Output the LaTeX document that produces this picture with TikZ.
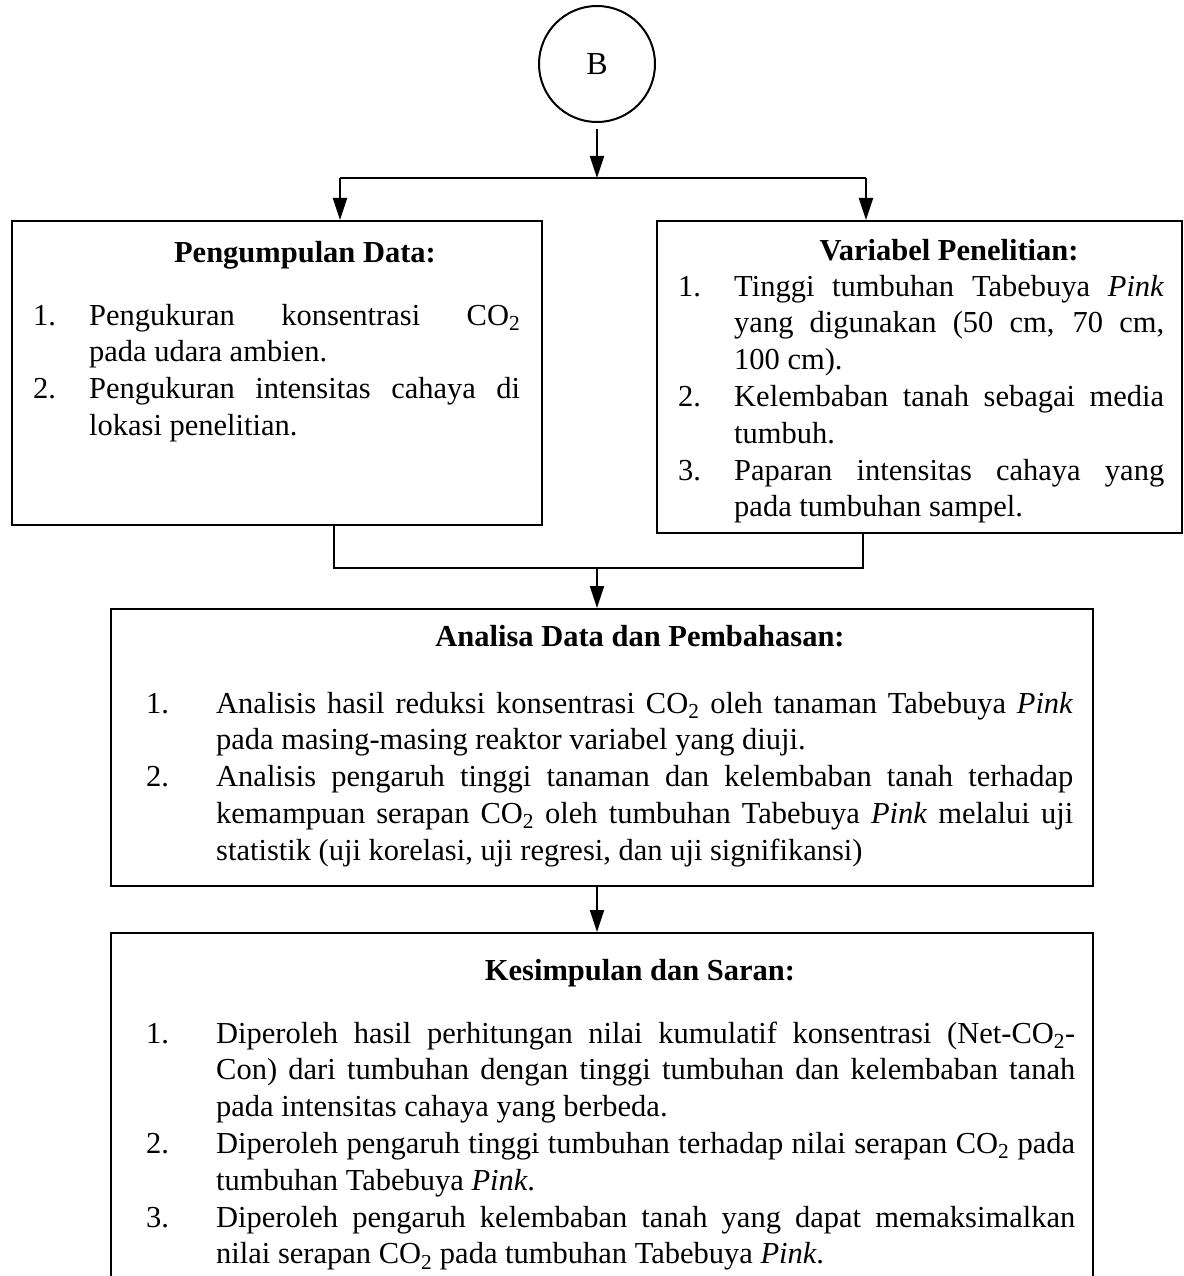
\documentclass[tikz,border=0pt]{standalone}
\usepackage{fontspec}
\setmainfont{Liberation Serif}
\usetikzlibrary{arrows.meta}
\newcommand{\firstitem}[2]{\leftskip=0pt\relax\rightskip=0pt\relax\spaceskip=0pt\relax\xspaceskip=0pt\relax\parfillskip=0pt plus 1fil\relax\tolerance=10000\relax\noindent\hangindent=#1\hangafter=1\makebox[#1][l]{#2}\ignorespaces}
\newcommand{\myitem}[2]{\par\noindent\hangindent=#1\hangafter=1\makebox[#1][l]{#2}\ignorespaces}
\begin{document}
\begin{tikzpicture}[x=1pt,y=-1pt,
  box/.style={draw, line width=2.2pt, rectangle, inner sep=0pt, anchor=north west},
  conn/.style={line width=2pt},
  arr/.style={line width=2pt, -{Triangle[length=22pt,width=14pt]}},
  ttl/.style={inner sep=0pt, anchor=base, font=\fontsize{30.5}{36.8}\selectfont\bfseries},
  lst/.style={inner sep=0pt, anchor=base west,
    font=\fontsize{30.5}{36.8}\selectfont}
]
\useasboundingbox (0,0) rectangle (1183,1276);
\clip (0,0) rectangle (1183,1276);

% start circle
\node[draw, circle, line width=2pt, minimum size=116pt, inner sep=0pt,
      font=\fontsize{32}{38}\selectfont] (B) at (597,64) {B};

% boxes
\node[box, minimum width=530pt, minimum height=304pt] (kumpul) at (11,220) {};
\node[box, minimum width=525pt, minimum height=312pt] (var) at (656,220) {};
\node[box, minimum width=982pt, minimum height=277pt] (analisa) at (110,608) {};
\node[box, minimum width=982pt, minimum height=420pt] (simpul) at (110,932) {};

% texts: Pengumpulan Data
\node[ttl] (t1) at (305,262) {Pengumpulan Data:};
\node[lst, text width=487pt] (l1) at (33,325) {\firstitem{56pt}{1.}Pengukuran konsentrasi CO\textsubscript{2}\linebreak pada udara ambien.
\myitem{56pt}{2.}Pengukuran intensitas cahaya di\linebreak lokasi penelitian.\par};

% Variabel Penelitian
\node[ttl] (t2) at (949,260) {Variabel Penelitian:};
\node[lst, text width=486pt] (l2) at (678,296) {\firstitem{56pt}{1.}Tinggi tumbuhan Tabebuya \textit{Pink}\linebreak yang digunakan (50 cm, 70 cm,\linebreak 100 cm).
\myitem{56pt}{2.}Kelembaban tanah sebagai media\linebreak tumbuh.
\myitem{56pt}{3.}Paparan intensitas cahaya yang\linebreak pada tumbuhan sampel.\par};

% Analisa
\node[ttl] (t3) at (640,646) {Analisa Data dan Pembahasan:};
\node[lst, text width=927pt] (l3) at (146,713) {\firstitem{70pt}{1.}Analisis hasil reduksi konsentrasi CO\textsubscript{2} oleh tanaman Tabebuya \textit{Pink}\linebreak pada masing-masing reaktor variabel yang diuji.
\myitem{70pt}{2.}Analisis pengaruh tinggi tanaman dan kelembaban tanah terhadap\linebreak kemampuan serapan CO\textsubscript{2} oleh tumbuhan Tabebuya \textit{Pink} melalui uji\linebreak statistik (uji korelasi, uji regresi, dan uji signifikansi)\par};

% Kesimpulan
\node[ttl] (t4) at (640,980) {Kesimpulan dan Saran:};
\node[lst, text width=929pt] (l4) at (146,1043) {\firstitem{70pt}{1.}Diperoleh hasil perhitungan nilai kumulatif konsentrasi (Net-CO\textsubscript{2}-\linebreak Con) dari tumbuhan dengan tinggi tumbuhan dan kelembaban tanah\linebreak pada intensitas cahaya yang berbeda.
\myitem{70pt}{2.}Diperoleh pengaruh tinggi tumbuhan terhadap nilai serapan CO\textsubscript{2} pada\linebreak tumbuhan Tabebuya \textit{Pink}.
\myitem{70pt}{3.}Diperoleh pengaruh kelembaban tanah yang dapat memaksimalkan\linebreak nilai serapan CO\textsubscript{2} pada tumbuhan Tabebuya \textit{Pink}.\par};

% connectors
\coordinate (jm) at (597,178);
\coordinate (jl) at (340,178);
\coordinate (jr) at (866,178);
\draw[arr] ([yshift=-6pt]B.south) -- (jm);
\draw[conn] (jl) -- (jr);
\draw[arr] (jl) -- (jl |- kumpul.north);
\draw[arr] (jr) -- (jr |- var.north);

\coordinate (cl) at (334,568);
\coordinate (cr) at (863,568);
\coordinate (cm) at (597,568);
\draw[conn] (cl |- kumpul.south) -- (cl) -- (cr) -- (cr |- var.south);
\draw[arr] (cm) -- (cm |- analisa.north);
\draw[arr] (cm |- analisa.south) -- (cm |- simpul.north);
\end{tikzpicture}
\end{document}
